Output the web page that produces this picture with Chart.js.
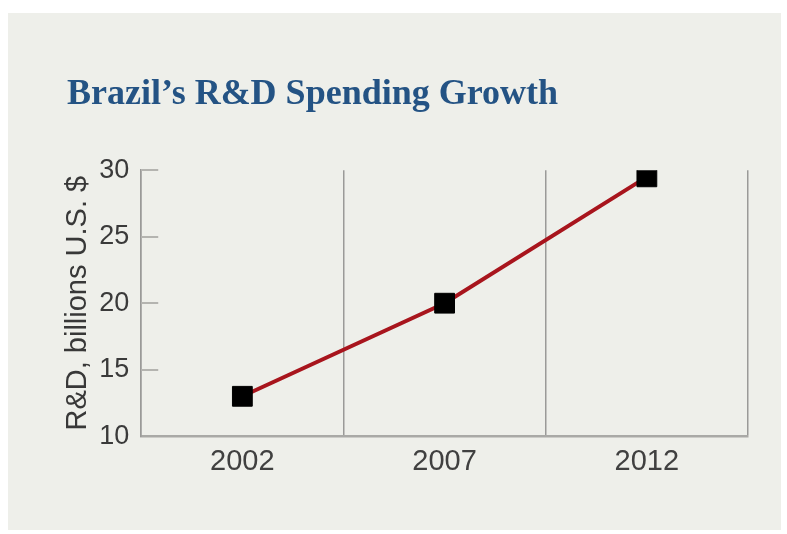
<!DOCTYPE html>
<html>
<head>
<meta charset="utf-8">
<script src="https://cdn.jsdelivr.net/npm/chart.js@4/dist/chart.umd.min.js"></script>
<style>
  body { margin: 0; background: #ffffff; }
  #panel { position: absolute; left: 8px; top: 13px; width: 773px; height: 517px; background: #eeefea; }
</style>
</head>
<body>
<div id="panel"><canvas id="js--chart"></canvas></div>
<script>
const years = ['2002', '2007', '2012'];
const spending = [13, 20, 29.5];
const yTicks = [10, 15, 20, 25, 30];

// short marks on the inside of the y axis
const tickMarks = {
  id: 'tickMarks',
  afterDatasetsDraw(chart) {
    const ctx = chart.ctx;
    const y = chart.scales.y;
    const left = chart.chartArea.left;
    ctx.save();
    ctx.strokeStyle = '#b4b4b0';
    ctx.lineWidth = 2;
    y.ticks.forEach(function(t){
      if (t.value === y.min) {
        return;
      }
      const py = Math.round(y.getPixelForValue(t.value));
      ctx.beginPath();
      ctx.moveTo(left, py);
      ctx.lineTo(left + 17, py);
      ctx.stroke();
    });
    ctx.restore();
  }
};

const data = {
  labels: years,
  datasets: [{
    label: 'R&D spending',
    data: spending,
    borderColor: '#a8151d',
    borderWidth: 4,
    pointStyle: 'rect',
    pointRadius: 14,
    pointHoverRadius: 14,
    pointBackgroundColor: '#000000',
    pointBorderColor: '#000000',
    pointBorderWidth: 1,
    tension: 0
  }]
};

const config = {
  type: 'line',
  data: data,
  options: {
    responsive: true,
    maintainAspectRatio: false,
    animation: false,
    layout: { padding: { left: 59, right: 33, top: 0, bottom: 43 } },
    plugins: {
      legend: { display: false },
      tooltip: { enabled: false },
      title: {
        display: true,
        text: 'Brazil\u2019s R&D Spending Growth',
        align: 'start',
        color: '#245384',
        font: { family: "'Liberation Serif', serif", size: 36, weight: 'bold' },
        padding: { top: 60, bottom: 54 }
      }
    },
    scales: {
      x: {
        type: 'category',
        offset: true,
        grid: {
          offset: true,
          color: '#9a9a98',
          lineWidth: 1.5,
          drawTicks: false
        },
        border: { color: '#a9a9a6', width: 2.5 },
        ticks: {
          color: '#404040',
          padding: 8,
          font: { family: "'Liberation Sans', Arial, sans-serif", size: 29 }
        }
      },
      y: {
        min: 10,
        max: 30,
        afterBuildTicks: function(scale){
          scale.ticks = yTicks.map(function(v){ return { value: v }; });
        },
        grid: { drawOnChartArea: false, drawTicks: false },
        border: { color: '#9a9a98', width: 1.5 },
        ticks: {
          color: '#3a3a3a',
          padding: 12,
          font: { family: "'Liberation Sans', Arial, sans-serif", size: 27 }
        },
        title: {
          display: true,
          text: 'R&D, billions U.S. $',
          color: '#383838',
          padding: { top: -6.4, bottom: -8.2 },
          font: { family: "'Liberation Sans', Arial, sans-serif", size: 29 }
        }
      }
    }
  },
  plugins: [tickMarks]
};

const myChart = new Chart(document.getElementById('js--chart'), config);
</script>
</body>
</html>
